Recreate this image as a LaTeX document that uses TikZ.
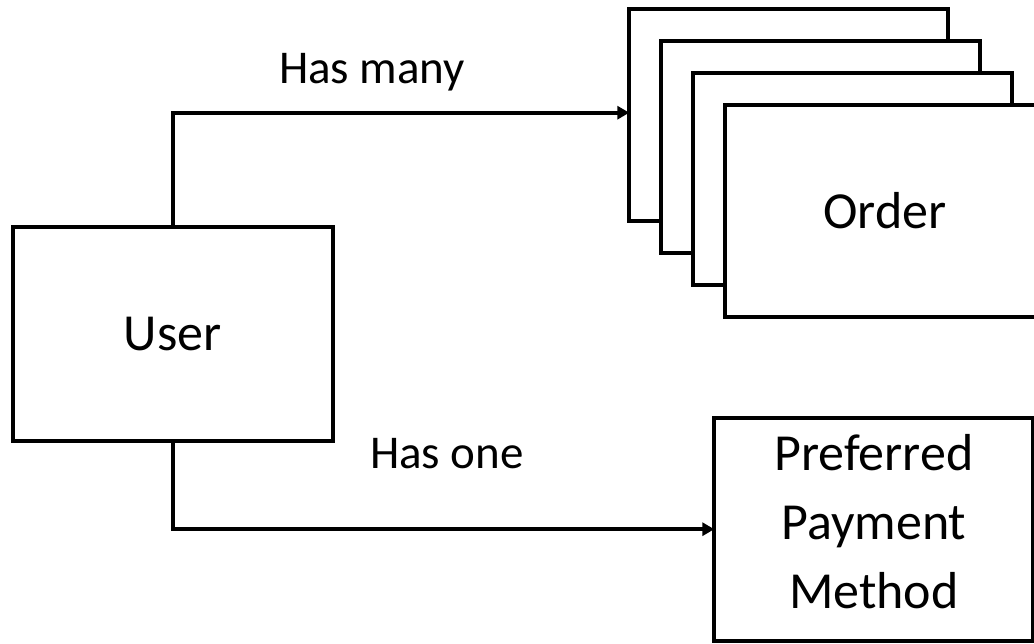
\documentclass[tikz,border=0pt]{standalone}
\usepackage{fontspec}
\setmainfont{Carlito}
\usetikzlibrary{arrows.meta}
\begin{document}
\begin{tikzpicture}[x=1pt,y=-1pt,
  box/.style={draw=black, fill=white, line width=4pt, inner sep=0pt, outer sep=0pt,
    font=\fontsize{52}{69}\selectfont, align=center},
  conn/.style={draw=black, line width=4pt, -{Triangle[length=12pt,width=13pt]}},
  lbl/.style={anchor=base, inner sep=0pt, font=\fontsize{47}{56}\selectfont}]
\useasboundingbox (0,0) rectangle (1034,643);
\clip (0,0) rectangle (1034,643);
% Order stack
\node[box, minimum width=319pt, minimum height=212pt] (o1) at (788.8,114.7) {};
\node[box, minimum width=319pt, minimum height=212pt] (o2) at (820.8,146.7) {};
\node[box, minimum width=319pt, minimum height=212pt] (o3) at (852.8,178.7) {};
\node[box, minimum width=319pt, minimum height=212pt] (o4) at (884.8,210.7) {Order};
% User
\node[box, minimum width=320pt, minimum height=214pt] (user) at (172.7,333.7) {User};
% Preferred Payment Method
\node[box, minimum width=319pt, minimum height=223pt] (pref) at (873.8,529.2) {Preferred\\Payment\\Method\rule[-16pt]{0pt}{16pt}};
% connectors
\draw[conn] (user.north) |- ([yshift=2pt]o1.west);
\draw[conn] (user.south) |- (pref.west);
% labels
\node[lbl] (hm) at (372,83) {Has many};
\node[lbl] (ho) at (447,468) {Has one};
\end{tikzpicture}
\end{document}
